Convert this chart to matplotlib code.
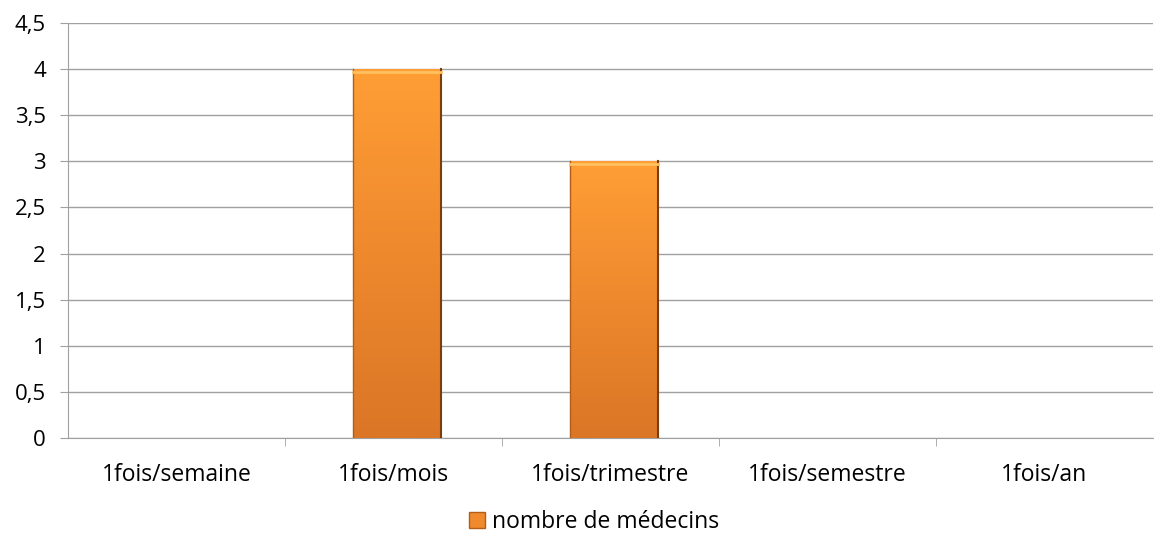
import matplotlib.pyplot as plt
import numpy as np
from matplotlib.colors import LinearSegmentedColormap
from matplotlib.patches import Patch

categories = ['1fois/semaine', '1fois/mois', '1fois/trimestre', '1fois/semestre', '1fois/an']
medecins = [0, 4, 3, 0, 0]
yticks = [0, 0.5, 1, 1.5, 2, 2.5, 3, 3.5, 4, 4.5]
ylabels = ['0', '0,5', '1', '1,5', '2', '2,5', '3', '3,5', '4', '4,5']

plt.rcParams['font.family'] = ['Open Sans', 'DejaVu Sans']

fig = plt.figure(figsize=(11.54, 5.42), dpi=100)
ax = fig.add_axes([68 / 1154, 1 - 438 / 542, 1085 / 1154, 415 / 542])

x = np.arange(len(categories))
width = 0.405
bars = ax.bar(x + 0.015, medecins, width=width, color='none', edgecolor='none', zorder=3)

# vertical orange gradient inside each bar
cmap = LinearSegmentedColormap.from_list('orange', ['#DA7626', '#EE892E', '#FF9E35'])
grad = np.linspace(0, 1, 256).reshape(-1, 1)
for b in bars:
    h = b.get_height()
    if h <= 0:
        continue
    x0 = b.get_x()
    ax.imshow(grad, cmap=cmap, origin='lower', aspect='auto',
              extent=(x0, x0 + width, 0, h), zorder=3)
    # dark right edge, soft left edge and light top bevel
    ax.plot([x0 + width, x0 + width], [0, h], color='#7A3E0C', lw=1.5, zorder=4)
    ax.plot([x0, x0], [0, h], color='#B25E18', lw=1, zorder=4)
    ax.plot([x0, x0 + width], [h - 0.03, h - 0.03], color='#FFC060', lw=2, zorder=4)

ax.set_xlim(-0.5, len(categories) - 0.5)
ax.set_ylim(0, 4.5)
ax.set_yticks(yticks)
ax.set_yticklabels(ylabels)
ax.yaxis.grid(True, color='#A0A0A0', lw=1)
ax.set_axisbelow(True)

ax.set_xticks(x)
ax.set_xticklabels(categories)
ax.set_xticks(np.arange(0.5, len(categories) - 0.5, 1), minor=True)
ax.tick_params(axis='x', which='major', length=0, pad=18, labelsize=16.5)
ax.tick_params(axis='x', which='minor', length=6, color='#A0A0A0', direction='out')
ax.tick_params(axis='y', length=6, color='#A0A0A0', labelsize=16, pad=10)

for s in ['top', 'right']:
    ax.spines[s].set_visible(False)
for s in ['left', 'bottom']:
    ax.spines[s].set_color('#A0A0A0')

handle = Patch(facecolor='#F08A2C', edgecolor='#B25E18', label='nombre de médecins')
fig.legend(handles=[handle], loc='center', bbox_to_anchor=(594 / 1154, 1 - 522 / 542),
           frameon=False, fontsize=16.5, handlelength=0.7, handleheight=0.7, handletextpad=0.3)

fig.savefig('out.png', dpi=100)
